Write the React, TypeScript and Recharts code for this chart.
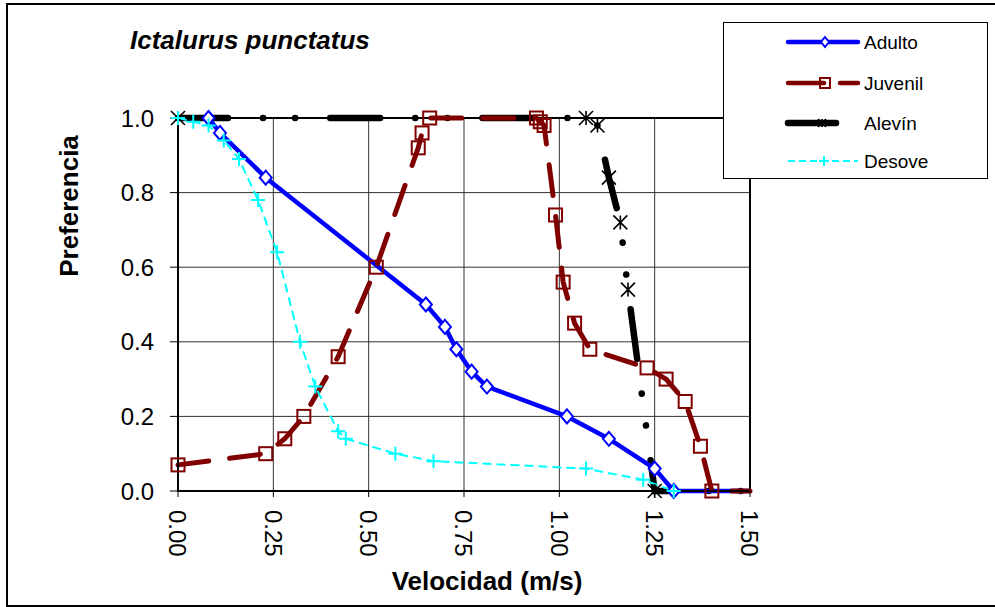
import React from 'react';
import { LineChart, Line, XAxis, YAxis, CartesianGrid, Legend, ReferenceArea } from 'recharts';

// velocidad (m/s) / preferencia
const velAdulto = [0.08, 0.11, 0.23, 0.65, 0.70, 0.73, 0.77, 0.81, 1.02, 1.13, 1.25, 1.30, 1.50];
const prefAdulto = [1.0, 0.96, 0.84, 0.50, 0.44, 0.38, 0.32, 0.28, 0.20, 0.14, 0.06, 0.0, 0.0];

const velJuvenil = [0, 0.23, 0.28, 0.33, 0.42, 0.52, 0.63, 0.64, 0.66, 0.94, 0.95, 0.96, 0.99, 1.01, 1.04, 1.08, 1.23, 1.28, 1.33, 1.37, 1.40, 1.50];
const prefJuvenil = [0.07, 0.10, 0.14, 0.20, 0.36, 0.60, 0.92, 0.96, 1.0, 1.0, 0.99, 0.98, 0.74, 0.56, 0.45, 0.38, 0.33, 0.30, 0.24, 0.12, 0.0, 0.0];

const velAlevin = [0, 1.07, 1.10, 1.13, 1.16, 1.18, 1.25, 1.50];
const prefAlevin = [1.0, 1.0, 0.98, 0.84, 0.72, 0.54, 0.0, 0.0];

const velDesove = [0, 0.04, 0.08, 0.12, 0.16, 0.21, 0.26, 0.32, 0.36, 0.42, 0.44, 0.57, 0.67, 1.07, 1.22, 1.30, 1.50];
const prefDesove = [1.0, 0.99, 0.98, 0.94, 0.89, 0.78, 0.64, 0.40, 0.28, 0.16, 0.14, 0.10, 0.08, 0.06, 0.03, 0.0, 0.0];

const xTicks = [0, 0.25, 0.5, 0.75, 1.0, 1.25, 1.5];
const yTicks = [0, 0.2, 0.4, 0.6, 0.8, 1.0];

const FONT = '"Liberation Sans", Arial, sans-serif';

const toPoints = (xs: number[], ys: number[]) => xs.map((x, i) => ({ x, y: ys[i] }));

const adulto = toPoints(velAdulto, prefAdulto);
const juvenil = toPoints(velJuvenil, prefJuvenil);
const alevin = toPoints(velAlevin, prefAlevin);
const desove = toPoints(velDesove, prefDesove);

const BLUE = '#0000ff';
const RED = '#800000';
const CYAN = '#00ffff';

const JUV_DASH = '31 21';
const ALE_DASH = '50 35 0.1 32 0.1 35';
const DES_DASH = '9 5';

const Diamond = ({ cx, cy, s = 6 }: any) => (
  <path d={`M${cx},${cy - s - 1}L${cx + s},${cy}L${cx},${cy + s + 1}L${cx - s},${cy}Z`} fill="#fff" stroke={BLUE} strokeWidth={2} />
);
const Square = ({ cx, cy, s = 6.5 }: any) => (
  <rect x={cx - s} y={cy - s} width={s * 2} height={s * 2} fill="none" stroke={RED} strokeWidth={2} />
);
const Star = ({ cx, cy, s = 7 }: any) => (
  <path d={`M${cx - s},${cy - s}L${cx + s},${cy + s}M${cx - s},${cy + s}L${cx + s},${cy - s}M${cx},${cy - s}L${cx},${cy + s}`} stroke="#000" strokeWidth={1.6} fill="none" />
);
const Plus = ({ cx, cy, s = 7 }: any) => (
  <path d={`M${cx - s},${cy}L${cx + s},${cy}M${cx},${cy - s}L${cx},${cy + s}`} stroke={CYAN} strokeWidth={2} fill="none" />
);

// no marker on the closing point at 1.50
const marker = (Shape: any) => (p: any) =>
  p.payload && p.payload.x >= 1.5 ? <g key={`m${p.index}`} /> : <Shape key={`m${p.index}`} cx={p.cx} cy={p.cy} />;

const XTick = ({ x, y, payload }: any) => (
  <text transform={`translate(${x - 8.6},${y}) rotate(90)`} textAnchor="start" fontSize={24} fontFamily={FONT} fill="#000">
    {Number(payload.value).toFixed(2)}
  </text>
);
const YTick = ({ x, y, payload }: any) => (
  <text x={x} y={y + 8.6} textAnchor="end" fontSize={24} fontFamily={FONT} fill="#000">
    {Number(payload.value).toFixed(1)}
  </text>
);

const legendRows = [
  { name: 'Adulto', y: 19 },
  { name: 'Juvenil', y: 60 },
  { name: 'Alevín', y: 100 },
  { name: 'Desove', y: 138 },
];

const LegendBox = () => (
  <svg width={262} height={154} style={{ display: 'block' }}>
    {legendRows.map((r) => (
      <g key={r.name}>
        {r.name === 'Adulto' && (
          <>
            <line x1={64} x2={134} y1={r.y} y2={r.y} stroke={BLUE} strokeWidth={4.5} strokeLinecap="round" />
            <Diamond cx={101} cy={r.y} s={4} />
          </>
        )}
        {r.name === 'Juvenil' && (
          <>
            <line x1={64} x2={100} y1={r.y} y2={r.y} stroke={RED} strokeWidth={4.5} strokeLinecap="round" />
            <line x1={116} x2={134} y1={r.y} y2={r.y} stroke={RED} strokeWidth={4.5} strokeLinecap="round" />
            <Square cx={101} cy={r.y} s={5} />
          </>
        )}
        {r.name === 'Alevín' && (
          <>
            <line x1={64} x2={112} y1={r.y} y2={r.y} stroke="#000" strokeWidth={6.5} strokeLinecap="round" />
            <Star cx={98} cy={r.y} s={4} />
          </>
        )}
        {r.name === 'Desove' && (
          <>
            <line x1={64} x2={134} y1={r.y} y2={r.y} stroke={CYAN} strokeWidth={2} strokeDasharray="7 4" />
            <Plus cx={100} cy={r.y} s={5} />
          </>
        )}
        <text x={140} y={r.y + 7} fontSize={19} fontFamily={FONT} fill="#000">{r.name}</text>
      </g>
    ))}
  </svg>
);

export default function App() {
  return (
    <div style={{ position: 'absolute', left: 0, top: 0, width: 995, height: 607, background: '#fff', overflow: 'hidden' }}>
      <div style={{ position: 'absolute', left: 6, top: 3, width: 1100, height: 604, border: '2px solid #000', boxSizing: 'border-box' }} />
      <div style={{ position: 'absolute', left: 130, top: 27, fontFamily: FONT, fontSize: 26, lineHeight: '26px', fontWeight: 'bold', fontStyle: 'italic', whiteSpace: 'nowrap' }}>
        Ictalurus punctatus
      </div>
      <LineChart width={995} height={607} margin={{ top: 118, right: 245, left: 0, bottom: 0 }} style={{ position: 'absolute', left: 0, top: 0 }}>
        <CartesianGrid stroke="#333" strokeWidth={1} />
        <ReferenceArea x1={0} x2={1.5} y1={0} y2={1} fill="none" stroke="#000" strokeWidth={2} />
        <XAxis
          dataKey="x"
          type="number"
          domain={[0, 1.5]}
          ticks={xTicks}
          height={116}
          tickSize={6}
          tickMargin={13}
          axisLine={{ stroke: '#000', strokeWidth: 2 }}
          tickLine={{ stroke: '#000' }}
          tick={<XTick />}
          interval={0}
          label={(p: any) => (
            <text x={p.viewBox.x + p.viewBox.width / 2 + 23} y={p.viewBox.y + 99} textAnchor="middle" fontSize={26} fontWeight="bold" fontFamily={FONT} fill="#000">
              Velocidad (m/s)
            </text>
          )}
        />
        <YAxis
          dataKey="y"
          type="number"
          domain={[0, 1]}
          ticks={yTicks}
          width={178}
          tickSize={8}
          tickMargin={16}
          axisLine={{ stroke: '#000', strokeWidth: 2 }}
          tickLine={{ stroke: '#000' }}
          tick={<YTick />}
          interval={0}
          label={(p: any) => (
            <text transform={`translate(${p.viewBox.x + 78},${p.viewBox.y + 88}) rotate(-90)`} textAnchor="middle" fontSize={26} fontWeight="bold" fontFamily={FONT} fill="#000">
              Preferencia
            </text>
          )}
        />
        <Legend
          layout="horizontal"
          verticalAlign="middle"
          align="center"
          content={() => <LegendBox />}
          wrapperStyle={{ position: 'absolute', left: 723, top: 22, width: 265, height: 157, border: '1.5px solid #000', background: '#fff', boxSizing: 'border-box' }}
        />
        <Line data={alevin} dataKey="y" name="Alevín" type="linear" stroke="#000" strokeWidth={6.5} strokeDasharray={ALE_DASH} strokeLinecap="round" dot={marker(Star)} activeDot={false} isAnimationActive={false} />
        <Line data={adulto} dataKey="y" name="Adulto" type="linear" stroke={BLUE} strokeWidth={4.5} strokeLinejoin="round" dot={marker(Diamond)} activeDot={false} isAnimationActive={false} />
        <Line data={juvenil} dataKey="y" name="Juvenil" type="linear" stroke={RED} strokeWidth={5} strokeDasharray={JUV_DASH} strokeLinecap="round" dot={marker(Square)} activeDot={false} isAnimationActive={false} />
        <Line data={desove} dataKey="y" name="Desove" type="linear" stroke={CYAN} strokeWidth={2} strokeDasharray={DES_DASH} dot={marker(Plus)} activeDot={false} isAnimationActive={false} />
      </LineChart>
    </div>
  );
}
